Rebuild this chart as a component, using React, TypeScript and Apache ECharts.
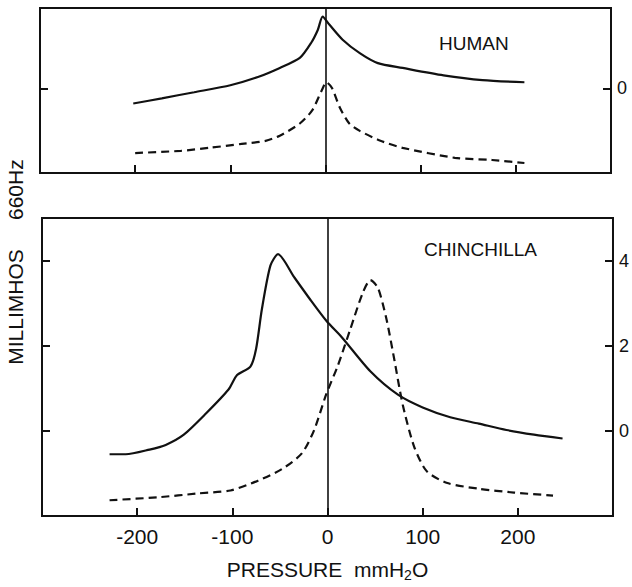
import { useEffect, useRef } from "react";
import * as echarts from "echarts";

// Axis ticks
const pressureTicks = [-200, -100, 0, 100, 200];
const humanTicks = [0];
const chinchillaTicks = [0, 2, 4];

// Human ear: solid curve (pressure in mmH2O, admittance in millimhos)
const humanSolidP = [-202, -172, -138, -100, -71, -48, -27, -15, -8, -3, 4, 18, 36, 55, 81, 124, 165, 209];
const humanSolidG = [-0.35, -0.23, -0.09, 0.07, 0.26, 0.47, 0.7, 1.05, 1.35, 1.65, 1.47, 1.12, 0.81, 0.58, 0.47, 0.3, 0.19, 0.14];

// Human ear: dashed curve
const humanDashP = [-200, -152, -122, -88, -63, -48, -27, -14, -4, 1, 7, 15, 25, 36, 57, 81, 136, 175, 209];
const humanDashG = [-1.49, -1.44, -1.37, -1.28, -1.21, -1.09, -0.81, -0.51, -0.05, 0.14, 0.0, -0.44, -0.81, -0.98, -1.2, -1.37, -1.6, -1.65, -1.72];

// Chinchilla ear: solid curve
const chinSolidP = [-229, -212, -187, -170, -151, -128, -104, -95, -81, -75, -69, -60, -52, -35, -18, -1, 15, 45, 74, 100, 129, 159, 188, 217, 247];
const chinSolidG = [-0.55, -0.55, -0.44, -0.33, -0.09, 0.4, 0.97, 1.31, 1.51, 1.93, 2.85, 3.88, 4.15, 3.61, 3.08, 2.58, 2.2, 1.4, 0.85, 0.55, 0.32, 0.17, 0.02, -0.09, -0.18];

// Chinchilla ear: dashed curve
const chinDashP = [-229, -178, -136, -102, -73, -48, -27, -14, -1.5, 11, 24, 37, 45, 53, 62, 70, 79, 91, 104, 125, 159, 196, 237];
const chinDashG = [-1.63, -1.56, -1.47, -1.4, -1.17, -0.9, -0.53, 0.02, 0.85, 1.54, 2.39, 3.24, 3.54, 3.36, 2.62, 1.7, 0.62, -0.37, -0.94, -1.22, -1.36, -1.45, -1.52];

const FONT = "'Liberation Sans', Arial, Helvetica, sans-serif";
const INK = "#111";

const pairs = (xs: number[], ys: number[]) => xs.map((x, i) => [x, ys[i]]);

const tickStyle = { color: INK, width: 2 };

function xAxisFor(gridIndex: number, withLabels: boolean) {
  return {
    type: "value",
    gridIndex,
    min: -300,
    max: 300,
    interval: 100,
    position: "bottom",
    axisLine: { show: false, onZero: false },
    splitLine: { show: false },
    axisTick: { show: true, inside: true, length: 8, lineStyle: tickStyle, customValues: pressureTicks },
    axisLabel: withLabels
      ? {
          show: true,
          customValues: pressureTicks,
          color: INK,
          fontFamily: FONT,
          fontSize: 21,
          margin: 10,
          formatter: (v: number) => String(v),
        }
      : { show: false },
    ...(withLabels
      ? {
          name: "{t|PRESSURE  mmH}{s|2}{t|O}",
          nameLocation: "middle",
          nameGap: 40,
          nameTextStyle: {
            rich: {
              t: { fontSize: 21, fontFamily: FONT, color: INK, lineHeight: 26 },
              s: { fontSize: 14, fontFamily: FONT, color: INK, lineHeight: 14, verticalAlign: "bottom" },
            },
          },
        }
      : {}),
  };
}

function yAxisFor(gridIndex: number, side: "left" | "right", min: number, max: number, ticks: number[]) {
  return {
    type: "value",
    gridIndex,
    position: side,
    min,
    max,
    axisLine: { show: false, onZero: false },
    splitLine: { show: false },
    axisTick: { show: true, inside: true, length: 8, lineStyle: tickStyle, customValues: ticks },
    axisLabel:
      side === "right"
        ? { show: true, customValues: ticks, color: INK, fontFamily: FONT, fontSize: 18, margin: 6 }
        : { show: false },
  };
}

const zeroLine = {
  silent: true,
  symbol: "none",
  label: { show: false },
  lineStyle: { color: INK, width: 1.6, type: "solid" },
  data: [{ xAxis: 0 }],
};

function curve(name: string, xs: number[], ys: number[], axis: number, yAxis: number, dashed: boolean, withZero: boolean) {
  return {
    name,
    type: "line",
    xAxisIndex: axis,
    yAxisIndex: yAxis,
    data: pairs(xs, ys),
    showSymbol: false,
    symbol: "none",
    smooth: 0.25,
    lineStyle: { color: INK, width: 2.2, type: dashed ? [8, 5] : "solid" },
    ...(withZero ? { markLine: zeroLine } : {}),
  };
}

const option = {
  animation: false,
  backgroundColor: "#fff",
  grid: [
    { left: 40, right: 21, top: 8, height: 165, show: true, borderColor: INK, borderWidth: 2 },
    { left: 42, right: 13, top: 218, height: 304, show: true, borderColor: INK, borderWidth: 2 },
  ],
  xAxis: [xAxisFor(0, false), xAxisFor(1, true)],
  yAxis: [
    yAxisFor(0, "left", -1.95, 1.85, humanTicks),
    yAxisFor(0, "right", -1.95, 1.85, humanTicks),
    yAxisFor(1, "left", -2, 5, chinchillaTicks),
    yAxisFor(1, "right", -2, 5, chinchillaTicks),
  ],
  series: [
    curve("Human solid", humanSolidP, humanSolidG, 0, 0, false, true),
    curve("Human dashed", humanDashP, humanDashG, 0, 0, true, false),
    curve("Chinchilla solid", chinSolidP, chinSolidG, 1, 2, false, true),
    curve("Chinchilla dashed", chinDashP, chinDashG, 1, 2, true, false),
  ],
  graphic: [
    {
      type: "text",
      x: 439,
      y: 43,
      style: { text: "HUMAN", font: `19px ${FONT}`, fill: INK, textAlign: "left", textVerticalAlign: "middle" },
    },
    {
      type: "text",
      x: 424,
      y: 249,
      style: { text: "CHINCHILLA", font: `19px ${FONT}`, fill: INK, textAlign: "left", textVerticalAlign: "middle" },
    },
    {
      type: "text",
      x: 15,
      y: 262,
      rotation: Math.PI / 2,
      style: {
        text: "MILLIMHOS     660Hz",
        font: `21px ${FONT}`,
        fill: INK,
        textAlign: "center",
        textVerticalAlign: "middle",
      },
    },
  ],
};

export default function App() {
  const ref = useRef<HTMLDivElement>(null);
  useEffect(() => {
    const chart = echarts.init(ref.current!, null, { renderer: "svg" });
    chart.setOption(option as any);
    return () => chart.dispose();
  }, []);
  return <div ref={ref} style={{ position: "absolute", left: 0, top: 0, width: 632, height: 587 }} />;
}
